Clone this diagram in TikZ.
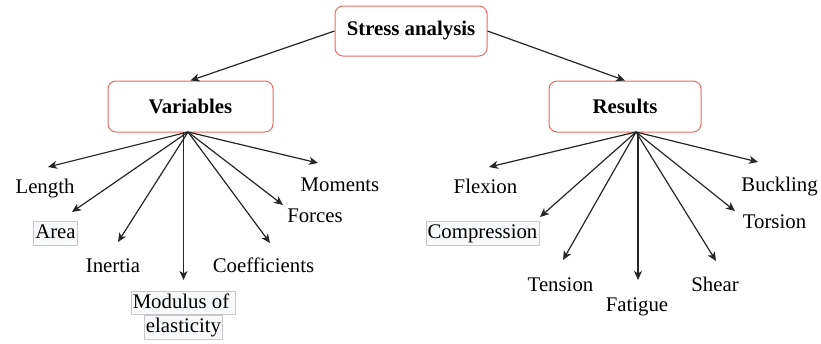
\documentclass[tikz,border=0pt]{standalone}
\usepackage{fontspec}
\setmainfont{Liberation Serif}
\usetikzlibrary{arrows.meta}
\definecolor{boxred}{HTML}{EA6B66}
\definecolor{tagfill}{HTML}{F8F9FA}
\definecolor{tagline}{HTML}{C8C8C8}
\tikzset{
  mainbox/.style={draw=boxred, line width=1pt, fill=white, rounded corners=8pt,
    font=\fontsize{20.8}{24}\selectfont\bfseries, inner sep=0pt},
  leaf/.style={font=\fontsize{20.8}{24}\selectfont, inner sep=0pt, anchor=base},
  tag/.style={font=\fontsize{20.8}{24}\selectfont, fill=tagfill, draw=tagline,
    line width=0.6pt, inner xsep=1.5pt, inner ysep=1.5pt,
    text height=15.5pt, text depth=5pt},
  link/.style={draw=black!85, line width=1.2pt,
    -{Stealth[length=9pt, width=8pt, inset=2.5pt]}},
}
\begin{document}
\begin{tikzpicture}[x=1pt, y=-1pt]
\useasboundingbox (0,0) rectangle (821,343);

% top level
\node[mainbox, minimum width=152pt, minimum height=50pt] (stress) at (411,31) {Stress analysis};
\node[mainbox, minimum width=165pt, minimum height=51pt] (var) at (190.5,106.5) {Variables};
\node[mainbox, minimum width=152pt, minimum height=51pt] (res) at (625,106.5) {Results};

\draw[link] (stress.west) -- (var.north);
\draw[link] (stress.east) -- (res.north);

% variables
\node[leaf] (length) at (45,193) {Length};
\node[tag] (area) at (55.5,233.5) {Area};
\node[leaf] (inertia) at (113,272) {Inertia};
\node[tag] (mod1) at (183.5,303) {Modulus of\kern5pt};
\node[tag] (mod2) at (183.5,327.5) {elasticity};
\node[leaf] (coef) at (263.5,272) {Coefficients};
\node[leaf] (forces) at (315,222) {Forces};
\node[leaf] (moments) at (340,191) {Moments};

\coordinate (vb) at (188,132);
\coordinate (vbv) at (183.5,132);
\coordinate (tLength) at (48,167);
\coordinate (tArea) at (72,212);
\coordinate (tInertia) at (118,242);
\coordinate (tMod) at (183.5,280);
\coordinate (tCoef) at (270,243);
\coordinate (tForces) at (283,205);
\coordinate (tMoments) at (318,163);

\draw[link] (vb) -- (tLength);
\draw[link] (vb) -- (tArea);
\draw[link] (vb) -- (tInertia);
\draw[link] (vbv) -- (tMod);
\draw[link] (vb) -- (tCoef);
\draw[link] (vb) -- (tForces);
\draw[link] (vb) -- (tMoments);

% results
\node[leaf] (flexion) at (485.5,193) {Flexion};
\node[tag] (compr) at (482.5,233.5) {Compression};
\node[leaf] (tension) at (560.5,291) {Tension};
\node[leaf] (fatigue) at (637,311) {Fatigue};
\node[leaf] (shear) at (715,291) {Shear};
\node[leaf] (torsion) at (774.5,228) {Torsion};
\node[leaf] (buckling) at (779.5,191) {Buckling};

\coordinate (rb) at (636,132);
\coordinate (rbv) at (638,132);
\coordinate (tFlexion) at (489,167);
\coordinate (tCompr) at (540,217);
\coordinate (tTension) at (563,260);
\coordinate (tFatigue) at (638,280);
\coordinate (tShear) at (716,261);
\coordinate (tTorsion) at (735,211);
\coordinate (tBuckling) at (758,162);

\draw[link] (rb) -- (tFlexion);
\draw[link] (rb) -- (tCompr);
\draw[link] (rb) -- (tTension);
\draw[link] (rbv) -- (tFatigue);
\draw[link] (rb) -- (tShear);
\draw[link] (rb) -- (tTorsion);
\draw[link] (rb) -- (tBuckling);
\end{tikzpicture}
\end{document}
